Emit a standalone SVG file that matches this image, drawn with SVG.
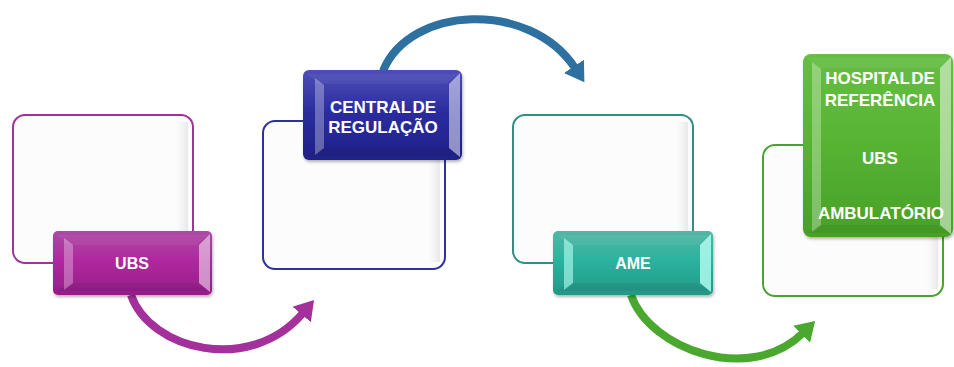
<svg xmlns="http://www.w3.org/2000/svg" width="954" height="367" viewBox="0 0 954 367">
<defs>
<style>
.box{fill:#fcfcfc;stroke-width:2}
.lbl{font-family:"Liberation Sans",Arial,sans-serif;font-weight:bold;fill:#ffffff;text-anchor:middle}
.fl{fill:#ffffff;opacity:0.3}
.fr{fill:#ffffff;opacity:0.5}
.ft{fill:#ffffff;opacity:0.05}
.fb{fill:#000000;opacity:0.06}
.arr{fill:none;stroke-width:8;stroke-linecap:butt}
</style>
<linearGradient id="gP" x1="0" y1="0" x2="0" y2="1"><stop offset="0" stop-color="#ad4aa5"/><stop offset="0.45" stop-color="#b0289f"/><stop offset="1" stop-color="#951d88"/></linearGradient>
<linearGradient id="gB" x1="0" y1="0" x2="0" y2="1"><stop offset="0" stop-color="#4e4eb8"/><stop offset="0.45" stop-color="#2b2da0"/><stop offset="1" stop-color="#1f2088"/></linearGradient>
<linearGradient id="gT" x1="0" y1="0" x2="0" y2="1"><stop offset="0" stop-color="#52b7a3"/><stop offset="0.45" stop-color="#2bb39f"/><stop offset="1" stop-color="#229887"/></linearGradient>
<linearGradient id="gG" x1="0" y1="0" x2="0" y2="1"><stop offset="0" stop-color="#67be45"/><stop offset="0.45" stop-color="#58b534"/><stop offset="1" stop-color="#47a028"/></linearGradient>
<linearGradient id="gS" x1="0" y1="0" x2="1" y2="0"><stop offset="0" stop-color="#eeeeee" stop-opacity="0"/><stop offset="1" stop-color="#e6e6e6" stop-opacity="0.9"/></linearGradient>
<filter id="sh" x="-10%" y="-10%" width="130%" height="130%"><feDropShadow dx="1" dy="2" stdDeviation="1.5" flood-color="#000" flood-opacity="0.3"/></filter>
<marker id="mP" markerUnits="userSpaceOnUse" markerWidth="20" markerHeight="26" viewBox="0 -13 20 26" refX="2" refY="0" orient="auto"><path d="M0,-12 L19,0 L0,12 z" fill="#a3309b"/></marker>
<marker id="mB" markerUnits="userSpaceOnUse" markerWidth="20" markerHeight="26" viewBox="0 -13 20 26" refX="2" refY="0" orient="auto"><path d="M0,-12 L19,0 L0,12 z" fill="#2e70a0"/></marker>
<marker id="mG" markerUnits="userSpaceOnUse" markerWidth="20" markerHeight="26" viewBox="0 -13 20 26" refX="2" refY="0" orient="auto"><path d="M0,-12 L19,0 L0,12 z" fill="#4aa82e"/></marker>
</defs>
<rect width="954" height="367" fill="#ffffff"/>

<g id="connectors">
<path class="arr" d="M131,295 C150,350 250,375 303,313" stroke="#a3309b" marker-end="url(#mP)"/>
<path class="arr" d="M383,71 C410,5 530,0 575,68" stroke="#2e70a0" marker-end="url(#mB)"/>
<path class="arr" d="M631,295 C650,350 750,385 803,333" stroke="#4aa82e" marker-end="url(#mG)"/>
</g>

<g id="node-ubs">
<rect class="box" x="13" y="115" width="180" height="148" rx="12" stroke="#a0339a"/>
<rect x="176" y="122" width="12" height="134" fill="url(#gS)"/>
<g filter="url(#sh)">
<rect x="53" y="231" width="159" height="64" rx="5" fill="url(#gP)"/>
</g>
<polygon class="ft" points="57,235 208,235 196,245 69,245"/>
<polygon class="fb" points="57,291 208,291 196,283 69,283"/>
<polygon class="fl" points="64,238 73,245 73,283 64,290"/>
<polygon class="fr" points="210,234 199,245 199,283 210,292"/>
<text class="lbl" x="132" y="269" font-size="16">UBS</text>
</g>

<g id="node-central">
<rect class="box" x="263" y="121" width="182" height="148" rx="12" stroke="#30309a"/>
<rect x="428" y="128" width="12" height="134" fill="url(#gS)"/>
<g filter="url(#sh)">
<rect x="303" y="70" width="159" height="90" rx="6" fill="url(#gB)"/>
</g>
<polygon class="ft" points="307,74 458,74 446,84 319,84"/>
<polygon class="fb" points="307,156 458,156 446,148 319,148"/>
<polygon class="fl" points="315,78 324,85 324,148 315,155"/>
<polygon class="fr" points="460,73 449,84 449,148 460,157"/>
<text class="lbl" x="383" y="113" font-size="17" word-spacing="-3">CENTRAL DE</text>
<text class="lbl" x="383" y="133" font-size="17">REGULAÇÃO</text>
</g>

<g id="node-ame">
<rect class="box" x="513" y="115" width="180" height="148" rx="12" stroke="#2f8f82"/>
<rect x="676" y="122" width="12" height="134" fill="url(#gS)"/>
<g filter="url(#sh)">
<rect x="553" y="231" width="160" height="64" rx="5" fill="url(#gT)"/>
</g>
<polygon class="ft" points="557,235 709,235 697,245 569,245"/>
<polygon class="fb" points="557,291 709,291 697,283 569,283"/>
<polygon class="fl" points="564,238 573,245 573,283 564,290" style="fill:#b8fff4;opacity:0.6"/>
<polygon class="fr" points="711,234 700,245 700,283 711,292" style="fill:#b8fff4;opacity:0.8"/>
<text class="lbl" x="633" y="269" font-size="16">AME</text>
</g>

<g id="node-hospital">
<rect class="box" x="763" y="145" width="180" height="151" rx="12" stroke="#4aa232"/>
<rect x="926" y="152" width="12" height="137" fill="url(#gS)"/>
<g filter="url(#sh)">
<rect x="803" y="54" width="150" height="183" rx="8" fill="url(#gG)"/>
</g>
<polygon class="ft" points="807,58 949,58 937,68 819,68"/>
<polygon class="fb" points="807,233 949,233 937,225 819,225"/>
<polygon class="fl" points="812,62 821,69 821,225 812,232"/>
<polygon class="fr" points="951,57 940,68 940,225 951,234"/>
<text class="lbl" x="880" y="84" font-size="17" word-spacing="-3">HOSPITAL DE</text>
<text class="lbl" x="880" y="106" font-size="17">REFERÊNCIA</text>
<text class="lbl" x="880" y="164" font-size="17">UBS</text>
<text class="lbl" x="881" y="219" font-size="17">AMBULATÓRIO</text>
</g>
</svg>
